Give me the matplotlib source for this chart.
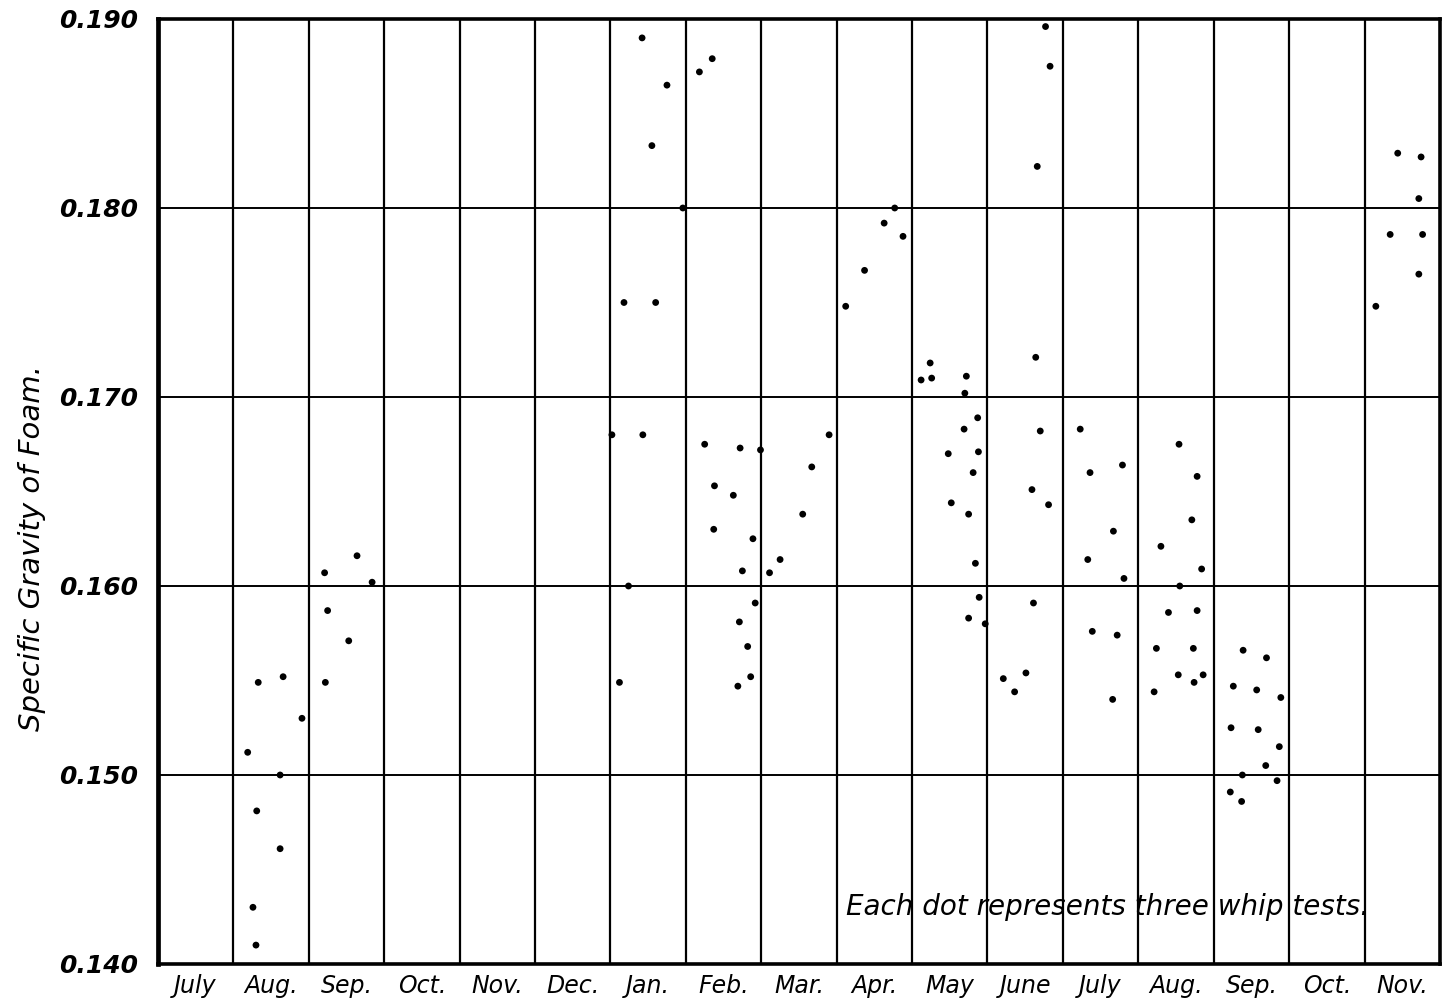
import numpy as np
import matplotlib
matplotlib.use("Agg")
import matplotlib.pyplot as plt

# Month columns, July of one year through November of the next
MONTHS = ["July", "Aug.", "Sep.", "Oct.", "Nov.", "Dec.", "Jan.", "Feb.", "Mar.",
          "Apr.", "May", "June", "July", "Aug.", "Sep.", "Oct.", "Nov."]
SG_TICKS = [0.140, 0.150, 0.160, 0.170, 0.180, 0.190]

# Each dot: position along the month axis (column index + fraction) and specific gravity
dot_pos = [
    # Aug.
    1.33, 1.66, 1.91, 1.19, 1.62, 1.31, 1.62, 1.26, 1.30,
    # Sep.
    2.21, 2.64, 2.84, 2.25, 2.53, 2.22,
    # Jan.
    6.42, 6.75, 6.55, 6.96, 6.18, 6.60, 6.02, 6.43, 6.24, 6.12,
    # Feb.
    7.35, 7.18, 7.25, 7.72, 7.38, 7.63, 7.37, 7.89, 7.75, 7.92, 7.71, 7.82, 7.86, 7.69, 7.99,
    # Mar.
    8.11, 8.25, 8.55, 8.67, 8.90,
    # Apr.
    9.12, 9.37, 9.63, 9.88, 9.77,
    # May
    10.24, 10.12, 10.26, 10.72, 10.70, 10.87, 10.69, 10.48, 10.88, 10.81, 10.52, 10.75,
    10.84, 10.89, 10.75, 10.97,
    # June
    11.77, 11.83, 11.66, 11.64, 11.70, 11.59, 11.81, 11.61, 11.21, 11.51, 11.36,
    # July
    12.23, 12.36, 12.79, 12.67, 12.33, 12.81, 12.39, 12.72, 12.66,
    # Aug.
    13.54, 13.78, 13.30, 13.71, 13.84, 13.55, 13.40, 13.78, 13.24, 13.73, 13.53, 13.86,
    13.74, 13.21,
    # Sep.
    14.39, 14.70, 14.26, 14.57, 14.89, 14.23, 14.59, 14.87, 14.69, 14.38, 14.84, 14.22, 14.37,
    # Nov.
    16.44, 16.75, 16.72, 16.34, 16.77, 16.72, 16.15,
]
dot_sg = [
    # Aug.
    0.1549, 0.1552, 0.1530, 0.1512, 0.1500, 0.1481, 0.1461, 0.1430, 0.1410,
    # Sep.
    0.1607, 0.1616, 0.1602, 0.1587, 0.1571, 0.1549,
    # Jan.
    0.1890, 0.1865, 0.1833, 0.1800, 0.1750, 0.1750, 0.1680, 0.1680, 0.1600, 0.1549,
    # Feb.
    0.1879, 0.1872, 0.1675, 0.1673, 0.1653, 0.1648, 0.1630, 0.1625, 0.1608, 0.1591, 0.1581,
    0.1568, 0.1552, 0.1547, 0.1672,
    # Mar.
    0.1607, 0.1614, 0.1638, 0.1663, 0.1680,
    # Apr.
    0.1748, 0.1767, 0.1792, 0.1785, 0.1800,
    # May
    0.1718, 0.1709, 0.1710, 0.1711, 0.1702, 0.1689, 0.1683, 0.1670, 0.1671, 0.1660, 0.1644,
    0.1638, 0.1612, 0.1594, 0.1583, 0.1580,
    # June
    0.1896, 0.1875, 0.1822, 0.1721, 0.1682, 0.1651, 0.1643, 0.1591, 0.1551, 0.1554, 0.1544,
    # July
    0.1683, 0.1660, 0.1664, 0.1629, 0.1614, 0.1604, 0.1576, 0.1574, 0.1540,
    # Aug.
    0.1675, 0.1658, 0.1621, 0.1635, 0.1609, 0.1600, 0.1586, 0.1587, 0.1567, 0.1567, 0.1553,
    0.1553, 0.1549, 0.1544,
    # Sep.
    0.1566, 0.1562, 0.1547, 0.1545, 0.1541, 0.1525, 0.1524, 0.1515, 0.1505, 0.1500, 0.1497,
    0.1491, 0.1486,
    # Nov.
    0.1829, 0.1827, 0.1805, 0.1786, 0.1786, 0.1765, 0.1748,
]

FONT = dict(family="DejaVu Sans", style="italic")

fig = plt.figure(figsize=(14.45, 10.05), dpi=100)
ax = fig.add_axes([0.1093, 0.0408, 0.8872, 0.9403])

n = len(MONTHS)
ax.set_xlim(0, n)
ax.set_ylim(SG_TICKS[0], SG_TICKS[-1])

# ruled grid: one column per month, one row per 0.010
for k in range(1, n):
    ax.axvline(k, color="black", lw=1.6, zorder=1)
for v in SG_TICKS[1:-1]:
    ax.axhline(v, color="black", lw=1.4, zorder=1)

ax.scatter(dot_pos, dot_sg, s=24, color="black", edgecolors="none", zorder=3)

for side in ["top", "right", "bottom"]:
    ax.spines[side].set_linewidth(2.6)
ax.spines["left"].set_linewidth(3.4)

ax.set_xticks(np.arange(n) + 0.5)
ax.set_xticklabels(MONTHS, fontsize=17, **FONT)
ax.set_yticks(SG_TICKS)
ax.set_yticklabels([f"{v:.3f}" for v in SG_TICKS], fontsize=18, fontweight="bold", **FONT)
ax.tick_params(axis="y", length=0, pad=14)
ax.tick_params(axis="x", length=0, pad=7)

fig.text(0.022, 0.455, "Specific Gravity of Foam.", rotation=90, fontsize=21,
         ha="center", va="center", **FONT)

ax.text(9.12, 0.1430, "Each dot represents three whip tests.", fontsize=20,
        ha="left", va="center", **FONT)

fig.savefig("out.png", dpi=100, facecolor="white")
